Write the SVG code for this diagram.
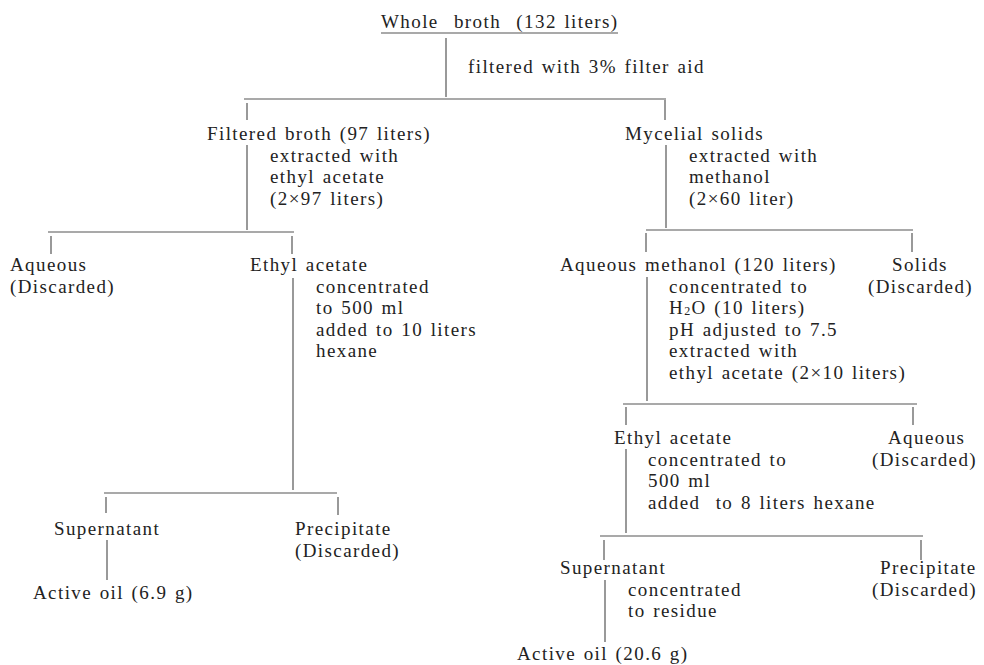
<svg xmlns="http://www.w3.org/2000/svg" width="984" height="665" viewBox="0 0 984 665">
<style>
text{font-family:"Liberation Serif","Times New Roman",serif;font-size:19px;fill:#222;letter-spacing:1.4px;word-spacing:1.5px}
.sub{font-size:12px}
#connectors line{stroke:#555;stroke-width:1.2}
</style>
<rect width="984" height="665" fill="#fff"/>
<g id="connectors">
<line x1="381" y1="33" x2="618" y2="33"/>
<line x1="446" y1="38" x2="446" y2="97"/>
<line x1="244" y1="99" x2="666" y2="99"/>
<line x1="247" y1="103" x2="247" y2="120"/>
<line x1="665" y1="100" x2="665" y2="120"/>
<line x1="247" y1="145" x2="247" y2="230"/>
<line x1="48" y1="232" x2="294" y2="232"/>
<line x1="51" y1="236" x2="51" y2="254"/>
<line x1="292" y1="236" x2="292" y2="254"/>
<line x1="666" y1="145" x2="666" y2="228"/>
<line x1="646" y1="230" x2="913" y2="230"/>
<line x1="646" y1="233" x2="646" y2="252"/>
<line x1="912" y1="233" x2="912" y2="252"/>
<line x1="647" y1="277" x2="647" y2="401"/>
<line x1="623" y1="404" x2="917" y2="404"/>
<line x1="626" y1="407" x2="626" y2="425"/>
<line x1="913" y1="407" x2="913" y2="425"/>
<line x1="626" y1="449" x2="626" y2="533"/>
<line x1="600" y1="536" x2="923" y2="536"/>
<line x1="604" y1="540" x2="604" y2="560"/>
<line x1="921" y1="540" x2="921" y2="560"/>
<line x1="605" y1="580" x2="605" y2="642"/>
<line x1="293" y1="278" x2="293" y2="490"/>
<line x1="104" y1="493" x2="337" y2="493"/>
<line x1="106" y1="497" x2="106" y2="513"/>
<line x1="338" y1="497" x2="338" y2="515"/>
<line x1="107" y1="540" x2="107" y2="580"/>
</g>
<g id="whole-broth"><text x="381" y="28" xml:space="preserve">Whole  broth  (132 liters)</text></g>
<g id="step-filter"><text x="468" y="73">filtered with 3% filter aid</text></g>
<g id="filtered-broth">
<text x="207" y="140">Filtered broth (97 liters)<tspan x="270" y="161.5">extracted with</tspan><tspan x="270" y="183">ethyl acetate</tspan><tspan x="270" y="204.5">(2×97 liters)</tspan></text>
</g>
<g id="mycelial-solids">
<text x="625" y="140">Mycelial solids<tspan x="689" y="161.5">extracted with</tspan><tspan x="689" y="183">methanol</tspan><tspan x="689" y="204.5">(2×60 liter)</tspan></text>
</g>
<g id="aqueous-left">
<text x="10" y="271">Aqueous<tspan x="10" y="292.5">(Discarded)</tspan></text>
</g>
<g id="ethyl-acetate-left">
<text x="250" y="271">Ethyl acetate<tspan x="316" y="292.5">concentrated</tspan><tspan x="316" y="314">to 500 ml</tspan><tspan x="316" y="335.5">added to 10 liters</tspan><tspan x="316" y="357">hexane</tspan></text>
</g>
<g id="supernatant-left">
<text x="54" y="535">Supernatant</text>
</g>
<g id="precipitate-left">
<text x="295" y="535">Precipitate<tspan x="295" y="556.5">(Discarded)</tspan></text>
</g>
<g id="active-oil-left"><text x="33" y="599">Active oil (6.9 g)</text></g>
<g id="aqueous-methanol">
<text x="560" y="271">Aqueous methanol (120 liters)<tspan x="669" y="292.5">concentrated to</tspan><tspan x="669" y="314">H</tspan><tspan class="sub" y="315">2</tspan><tspan y="314">O (10 liters)</tspan><tspan x="669" y="335.5">pH adjusted to 7.5</tspan><tspan x="669" y="357">extracted with</tspan><tspan x="669" y="378.5">ethyl acetate (2×10 liters)</tspan></text>
</g>
<g id="solids">
<text x="892" y="271">Solids<tspan x="868" y="292.5">(Discarded)</tspan></text>
</g>
<g id="ethyl-acetate-right">
<text x="614" y="444" xml:space="preserve">Ethyl acetate<tspan x="648" y="465.5">concentrated to</tspan><tspan x="648" y="487">500 ml</tspan><tspan x="648" y="508.5">added  to 8 liters hexane</tspan></text>
</g>
<g id="aqueous-right">
<text x="888" y="444">Aqueous<tspan x="872" y="465.5">(Discarded)</tspan></text>
</g>
<g id="supernatant-right">
<text x="560" y="574">Supernatant<tspan x="628" y="595.5">concentrated</tspan><tspan x="628" y="617">to residue</tspan></text>
</g>
<g id="precipitate-right">
<text x="880" y="574">Precipitate<tspan x="872" y="595.5">(Discarded)</tspan></text>
</g>
<g id="active-oil-right"><text x="517" y="660">Active oil (20.6 g)</text></g>
</svg>
